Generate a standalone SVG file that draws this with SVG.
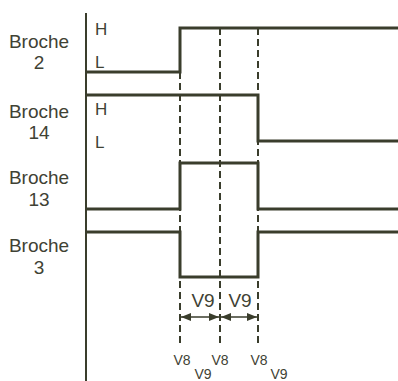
<svg xmlns="http://www.w3.org/2000/svg" width="398" height="381" viewBox="0 0 398 381">
<style>
text{font-family:"Liberation Sans",Arial,sans-serif;fill:#3f4234}
.lbl{font-size:19px;text-anchor:middle}
.hl{font-size:17px}
.v{font-size:14px;text-anchor:middle}
.vb{font-size:19px;text-anchor:middle}
.wave{fill:none;stroke:#3a3d2c;stroke-width:3;stroke-linejoin:miter}
.axis{fill:none;stroke:#3a3d2c;stroke-width:2}
.dash{fill:none;stroke:#3a3d2c;stroke-width:2;stroke-dasharray:7 4}
.arr{fill:none;stroke:#3a3d2c;stroke-width:1.6;marker-start:url(#ah);marker-end:url(#ah)}
</style>
<defs>
<marker id="ah" viewBox="0 0 10 8" refX="10" refY="4" markerWidth="10" markerHeight="8" markerUnits="userSpaceOnUse" orient="auto-start-reverse">
<path d="M0,0 L10,4 L0,8 Z" fill="#3a3d2c"/>
</marker>
</defs>
<g id="labels">
<g id="broche2"><text class="lbl" x="39" y="48">Broche</text><text class="lbl" x="39" y="69">2</text></g>
<g id="broche14"><text class="lbl" x="39" y="118">Broche</text><text class="lbl" x="39" y="139">14</text></g>
<g id="broche13"><text class="lbl" x="39" y="184">Broche</text><text class="lbl" x="39" y="206">13</text></g>
<g id="broche3"><text class="lbl" x="39" y="252">Broche</text><text class="lbl" x="39" y="274">3</text></g>
<g id="levels">
<text class="hl" x="95" y="35">H</text><text class="hl" x="95" y="68">L</text>
<text class="hl" x="95" y="115">H</text><text class="hl" x="95" y="148">L</text>
</g>
</g>
<g id="connectors">
<line class="axis" x1="86" y1="13" x2="86" y2="381"/>
<line class="dash" x1="180" y1="72" x2="180" y2="346"/>
<line class="dash" x1="220" y1="28" x2="220" y2="346"/>
<line class="dash" x1="258" y1="28" x2="258" y2="346"/>
<line class="arr" x1="181" y1="317" x2="219" y2="317"/>
<line class="arr" x1="221" y1="317" x2="257" y2="317"/>
</g>
<g id="waveforms">
<polyline id="w2" class="wave" points="86,72 180,72 180,28 398,28"/>
<polyline id="w14" class="wave" points="86,95 258,95 258,141 398,141"/>
<polyline id="w13" class="wave" points="86,209 180,209 180,163 258,163 258,209 398,209"/>
<polyline id="w3" class="wave" points="86,232 180,232 180,277 258,277 258,232 398,232"/>
</g>
<g id="timing">
<text class="vb" x="203" y="307">V9</text>
<text class="vb" x="240" y="307">V9</text>
<text class="v" x="182" y="365">V8</text>
<text class="v" x="220" y="365">V8</text>
<text class="v" x="259" y="365">V8</text>
<text class="v" x="203" y="379">V9</text>
<text class="v" x="279" y="379">V9</text>
</g>
</svg>
